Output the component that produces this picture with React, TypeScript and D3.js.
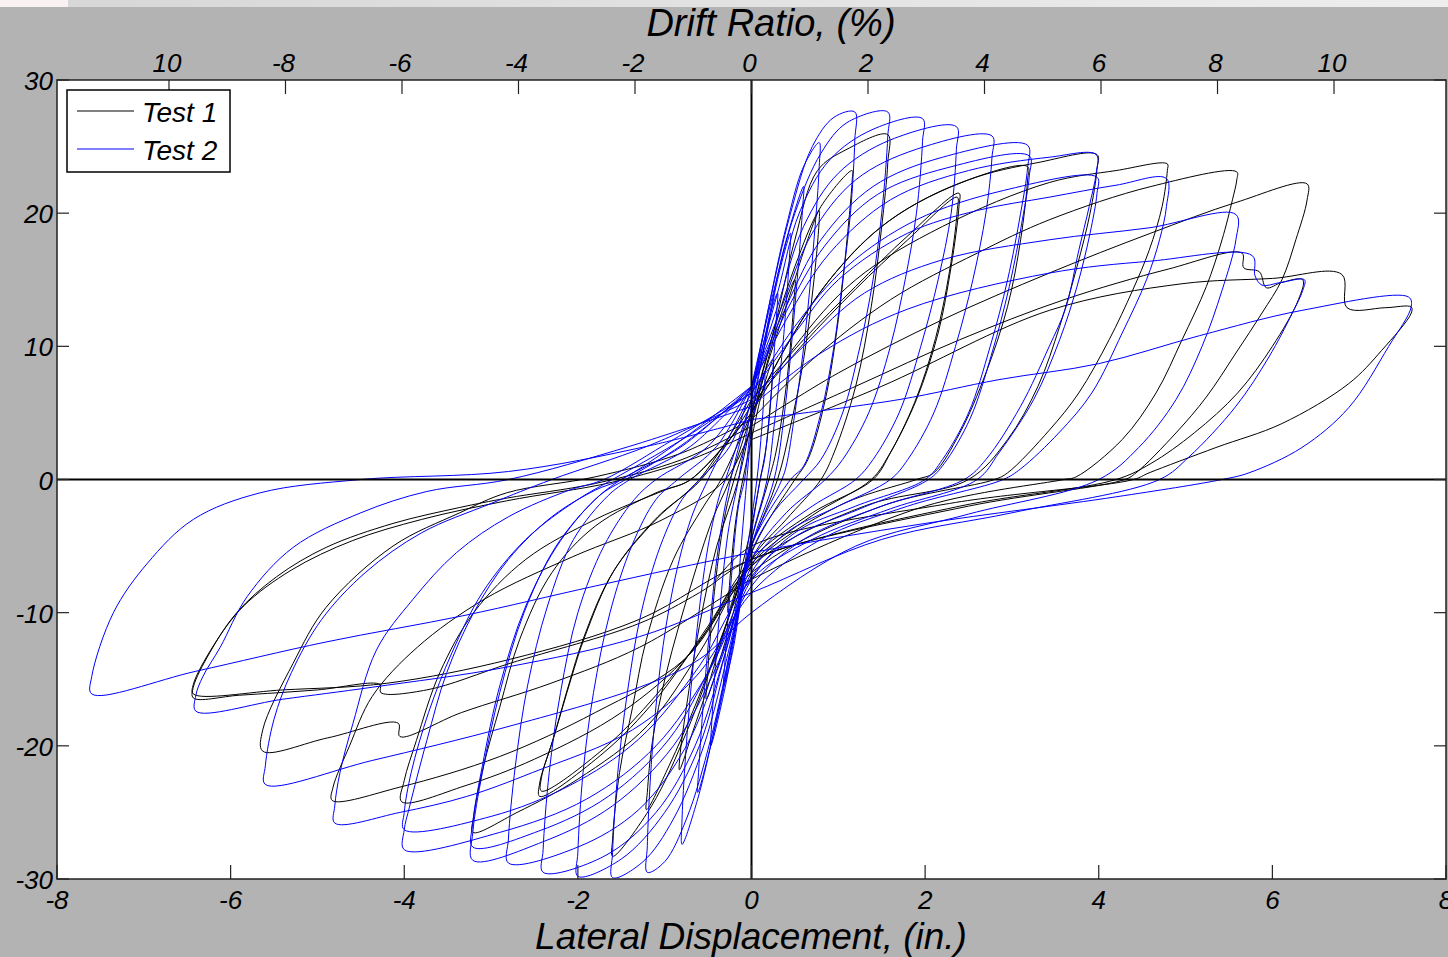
import React from 'react';
import * as d3 from 'd3';

type Pt = [number, number];

// axis values
const dispTicks = [-8, -6, -4, -2, 0, 2, 4, 6, 8];
const forceTicks = [-30, -20, -10, 0, 10, 20, 30];
const driftTicks = [-10, -8, -6, -4, -2, 0, 2, 4, 6, 8, 10];
const driftLabels = ['10', '-8', '-6', '-4', '-2', '0', '2', '4', '6', '8', '10'];
const seriesNames = ['Test 1', 'Test 2'];
const colHeight = 67.1; // in., used for drift ratio = disp / height

// Test 1 (black): one loop per cycle [disp (in.), force]
const test1Cycles: Pt[][] = [
  [[0, 3], [0.12, 6.5], [0.25, 9], [0.24, 7.5], [0.17, 2.5], [0.1, 0], [0, -3.5], [-0.13, -7], [-0.27, -10], [-0.26, -8.5], [-0.18, -3], [-0.1, 0], [0, 3]],
  [[0, 4], [0.15, 8], [0.32, 12], [0.5, 15], [0.49, 13.5], [0.4, 7], [0.28, 2], [0.2, 0], [0, -4.5], [-0.17, -9], [-0.34, -13], [-0.52, -16.5], [-0.51, -15], [-0.42, -8], [-0.3, -2.5], [-0.2, 0], [0, 4]],
  [[0, 4.5], [0.2, 9], [0.45, 14], [0.62, 17.5], [0.78, 20.2], [0.78, 19.5], [0.72, 15], [0.6, 9], [0.45, 4], [0.3, 0], [0, -5], [-0.25, -10], [-0.5, -15.5], [-0.68, -19], [-0.83, -21.8], [-0.82, -20.5], [-0.75, -17.1], [-0.6, -11], [-0.4, -5], [-0.15, 0], [0, 4.5]],
  [[0, 5], [0.25, 11], [0.5, 16], [0.8, 20.5], [1.16, 23.2], [1.16, 22.5], [1.1, 18], [1.0, 12], [0.85, 6], [0.65, 1.5], [0.5, 0], [0.2, -3], [0, -5.5], [-0.3, -11], [-0.65, -17], [-0.95, -21.5], [-1.21, -24.8], [-1.2, -23.5], [-1.14, -19.6], [-0.98, -14.5], [-0.7, -8], [-0.45, -3], [-0.25, 0], [0, 5]],
  [[0, 5], [0.25, 11], [0.5, 18], [0.76, 23.2], [1.1, 24.8], [1.57, 25.9], [1.57, 23.8], [1.5, 19], [1.38, 13], [1.2, 7], [0.95, 2], [0.8, 0], [0.4, -3], [0, -6], [-0.35, -12], [-0.75, -19], [-1.15, -24.5], [-1.6, -28.3], [-1.6, -27], [-1.52, -22], [-1.37, -17.1], [-1.21, -12], [-0.9, -6], [-0.55, -2], [-0.35, 0], [0, 5]],
  [[0, 6], [0.6, 10.5], [1.2, 14.5], [1.8, 18.3], [2.39, 21.5], [2.39, 20.5], [2.3, 16], [2.15, 11], [1.9, 6], [1.6, 2], [1.4, 0], [0.7, -2.5], [0, -6], [-0.5, -11], [-1.1, -16.5], [-1.7, -20.5], [-2.44, -23.8], [-2.44, -22.8], [-2.29, -19.6], [-2.1, -15.3], [-1.94, -12], [-1.6, -7], [-1.1, -3], [-0.6, 0], [0, 6]],
  [[0, 5.6], [0.6, 10.2], [1.2, 14.3], [1.8, 18.0], [2.37, 21.2], [2.37, 20.2], [2.28, 15.6], [2.12, 10.6], [1.88, 5.8], [1.58, 1.8], [1.38, 0], [0.7, -2.7], [0, -6.3], [-0.5, -11.2], [-1.1, -16.2], [-1.7, -20.2], [-2.42, -23.4], [-2.42, -22.4], [-2.27, -19.2], [-2.08, -15], [-1.92, -11.8], [-1.58, -6.8], [-1.08, -2.8], [-0.58, 0], [0, 5.6]],
  [[0, 5], [0.4, 10], [0.9, 15], [1.5, 19], [2.3, 22], [3.18, 23.5], [3.18, 22.5], [3.1, 18], [2.95, 13], [2.7, 8], [2.4, 3.5], [2.1, 0.5], [1.9, 0], [1.0, -2], [0, -6.5], [-0.6, -13], [-1.2, -18.5], [-2.0, -22.5], [-2.7, -25], [-3.21, -26.5], [-3.2, -25.3], [-3.09, -21.6], [-2.9, -17.1], [-2.67, -12], [-2.3, -7], [-1.8, -3.5], [-1.1, -1], [-0.7, 0], [0, 5]],
  [[0, 5], [0.4, 10], [0.9, 15], [1.6, 19.5], [2.5, 22.5], [3.3, 23.8], [3.98, 24.4], [3.98, 23.3], [3.9, 20], [3.75, 16], [3.55, 11.5], [3.3, 7], [2.95, 3], [2.5, 0], [1.3, -2], [0, -6.5], [-0.7, -13], [-1.5, -17.5], [-2.5, -21], [-3.3, -23], [-4.03, -24.2], [-4.0, -22.6], [-3.86, -19.6], [-3.59, -14.5], [-3.2, -10], [-2.6, -6], [-1.8, -3], [-1.0, -0.8], [-0.7, 0], [0, 5]],
  [[0, 5], [0.5, 10], [1.2, 15], [2.2, 19], [3.43, 22.3], [4.2, 23.2], [4.79, 23.7], [4.79, 23.2], [4.73, 20.5], [4.58, 17.2], [4.39, 14.2], [4.12, 10.5], [3.77, 6.5], [3.43, 3.7], [2.95, 0.5], [2.8, 0], [1.5, -2], [0, -7], [-0.77, -13.5], [-1.8, -17.5], [-2.9, -20.8], [-4.05, -23.1], [-4.83, -24.1], [-4.82, -23.1], [-4.63, -20], [-4.37, -16.3], [-3.85, -12.6], [-3.08, -9], [-2.06, -5.8], [-1.02, -3], [-0.3, 0], [0, 4]],
  [[0, 4.5], [0.7, 9], [1.6, 13.5], [2.6, 17], [3.43, 19.5], [4.6, 22], [5.59, 23.1], [5.59, 22.5], [5.54, 21], [5.42, 18], [5.24, 14.5], [4.96, 10.5], [4.66, 6.5], [4.27, 3], [3.74, 0.2], [3.6, 0], [2, -2], [0, -7.5], [-0.25, -8.5], [-1.29, -12.6], [-2.31, -15.3], [-3.34, -17.5], [-4.05, -19.3], [-4.07, -18.3], [-4.88, -19.4], [-5.63, -20.4], [-5.63, -18.8], [-5.28, -13.8], [-4.9, -9.6], [-4.13, -5.0], [-3.36, -2.5], [-2.82, -1.0], [-1.8, 0.2], [-0.8, 2], [0, 4.5]],
  [[0, 4], [1.0, 8], [2.2, 12], [3.43, 15.5], [4.6, 18.5], [5.58, 20.8], [6.4, 22.2], [6.4, 21], [6.27, 18], [6.11, 15], [5.88, 12.5], [5.58, 9.5], [5.24, 6.2], [4.89, 3.5], [4.43, 0.5], [4.3, 0], [2.5, -2], [0, -6], [-0.6, -8.5], [-1.29, -10.8], [-2.78, -13.8], [-3.74, -15.8], [-4.27, -16.0], [-4.28, -15.4], [-5.0, -15.8], [-5.9, -16.2], [-6.43, -16.4], [-6.43, -15.6], [-6.24, -13.0], [-5.93, -10.0], [-5.47, -7.3], [-4.9, -5.1], [-4.13, -3.3], [-3.36, -2.1], [-2.82, -1.4], [-1.8, -0.3], [-0.8, 1.5], [0, 4]],
  [[0, 3.5], [1.2, 7], [2.4, 10.5], [3.6, 13.5], [4.8, 15.8], [5.65, 17.0], [5.67, 15.9], [5.85, 15.6], [5.93, 14.4], [6.11, 14.8], [6.35, 15.0], [6.3, 13.5], [6.0, 10], [5.6, 6.5], [5.1, 3.5], [4.6, 1.2], [4.2, 0], [2.4, -2], [0, -6], [-1.29, -10.5], [-2.78, -13.5], [-4.2, -15.3], [-5.4, -15.8], [-6.43, -16.1], [-6.43, -15.4], [-6.2, -12.5], [-5.85, -9.5], [-5.3, -6.8], [-4.6, -4.6], [-3.8, -3], [-2.82, -1.6], [-1.6, -0.2], [-0.7, 1.5], [0, 3.5]],
  [[0, 3], [1.5, 7], [3.43, 12.7], [4.96, 14.7], [6.0, 15.1], [6.8, 15.4], [6.86, 12.9], [7.3, 12.9], [7.6, 12.95], [7.6, 12.5], [7.26, 9.7], [6.88, 7.2], [6.11, 4.2], [5.35, 2.4], [4.58, 0.5], [4.4, 0], [2.28, -1.8], [0, -5], [-0.4, -7.5]],
];

// Test 2 (blue)
const test2Cycles: Pt[][] = [
  [[0, 4], [0.08, 6.5], [0.15, 8], [0.14, 6], [0.08, 1], [0, -3], [-0.08, -6.5], [-0.15, -9], [-0.14, -7], [-0.08, -2], [0, 4]],
  [[0, 5], [0.12, 9], [0.22, 12.5], [0.3, 14], [0.29, 12.5], [0.22, 6], [0.15, 1.5], [0.1, 0], [0, -4], [-0.12, -9], [-0.22, -13], [-0.32, -15.5], [-0.31, -14], [-0.24, -8], [-0.15, -2], [-0.08, 0], [0, 5]],
  [[0, 5.5], [0.15, 10], [0.3, 15], [0.45, 18.5], [0.44, 17], [0.36, 10], [0.26, 4], [0.18, 0], [0, -4.5], [-0.15, -10], [-0.3, -15.5], [-0.47, -20], [-0.46, -18.5], [-0.38, -11], [-0.27, -4], [-0.15, 0], [0, 5.5]],
  [[0, 6], [0.18, 11.5], [0.38, 17.5], [0.6, 22], [0.59, 20.5], [0.5, 13], [0.38, 5], [0.26, 0], [0, -5], [-0.18, -11], [-0.38, -17.5], [-0.62, -23.5], [-0.61, -22], [-0.52, -14], [-0.38, -5], [-0.24, 0], [0, 6]],
  [[0, 6], [0.2, 13], [0.4, 19], [0.6, 23.5], [0.78, 25.3], [0.78, 23.5], [0.72, 18], [0.62, 11], [0.5, 5], [0.4, 1], [0.35, 0], [0, -5], [-0.2, -11.5], [-0.42, -18.5], [-0.62, -24], [-0.8, -27.4], [-0.8, -25.5], [-0.74, -19], [-0.64, -12], [-0.5, -5], [-0.36, -1], [-0.3, 0], [0, 6]],
  [[0, 6.5], [0.2, 13], [0.45, 20], [0.7, 25], [0.95, 27.2], [1.19, 27.6], [1.19, 25.5], [1.14, 20], [1.05, 15], [0.95, 10], [0.8, 5], [0.6, 1], [0.45, 0], [0, -5], [-0.22, -12], [-0.47, -19.5], [-0.75, -25.5], [-1.0, -28.7], [-1.2, -29.5], [-1.2, -27.5], [-1.15, -21], [-1.05, -14], [-0.9, -8], [-0.7, -3], [-0.5, 0], [0, 6.5]],
  [[0, 7], [0.25, 14], [0.5, 20], [0.8, 24.5], [1.1, 26.8], [1.57, 27.6], [1.57, 25.8], [1.5, 20], [1.4, 15], [1.25, 10], [1.05, 5], [0.8, 1.5], [0.6, 0], [0.25, -2.5], [0, -5.5], [-0.25, -12.5], [-0.55, -20], [-0.9, -25.5], [-1.25, -28.7], [-1.6, -29.9], [-1.6, -28], [-1.54, -22], [-1.43, -16], [-1.27, -10], [-1.05, -5], [-0.8, -1.5], [-0.6, 0], [-0.25, 2.5], [0, 7]],
  [[0, 7], [0.3, 14], [0.55, 20], [0.9, 24], [1.4, 26.3], [1.97, 27.1], [1.97, 25.4], [1.9, 20], [1.77, 15], [1.6, 10], [1.35, 5], [1.05, 1.5], [0.85, 0], [0.4, -2.5], [0, -6], [-0.3, -13], [-0.6, -20], [-1.0, -25], [-1.5, -28.5], [-2.0, -29.8], [-2.0, -28], [-1.94, -22], [-1.82, -16], [-1.63, -10], [-1.38, -5], [-1.1, -1.5], [-0.85, 0], [-0.4, 2.5], [0, 7]],
  [[0, 7], [0.3, 13], [0.6, 19], [1.0, 23], [1.6, 25.5], [2.36, 26.5], [2.36, 24.8], [2.3, 20], [2.15, 15], [1.95, 10], [1.7, 5], [1.4, 1.5], [1.2, 0], [0.7, -2], [0.3, -4], [0, -6.5], [-0.3, -13], [-0.65, -20], [-1.1, -25], [-1.7, -28.3], [-2.4, -29.5], [-2.4, -27.8], [-2.33, -22], [-2.2, -16], [-2.0, -10], [-1.7, -5], [-1.35, -1.5], [-1.1, 0], [-0.5, 2.5], [0, 7]],
  [[0, 7], [0.35, 13], [0.7, 18.5], [1.2, 22.5], [1.9, 24.8], [2.77, 25.8], [2.77, 24.2], [2.7, 20], [2.55, 15], [2.35, 10], [2.1, 5], [1.8, 1.5], [1.6, 0], [1.0, -2], [0.4, -4], [0, -7], [-0.35, -13.5], [-0.75, -20], [-1.3, -24.8], [-2.0, -27.6], [-2.8, -28.8], [-2.8, -27], [-2.72, -21.5], [-2.58, -15.5], [-2.35, -9.5], [-2.05, -4.5], [-1.65, -1.2], [-1.4, 0], [-0.7, 2.5], [0, 7]],
  [[0, 7], [0.4, 13], [0.8, 18], [1.4, 22], [2.2, 24.2], [3.18, 25.1], [3.18, 23.4], [3.1, 20], [2.95, 15], [2.75, 10], [2.5, 5], [2.2, 1.5], [2.0, 0], [1.2, -2], [0.5, -4], [0, -7.5], [-0.4, -14], [-0.9, -20], [-1.6, -24.5], [-2.4, -27.2], [-3.21, -28.6], [-3.21, -26.5], [-3.1, -22], [-2.9, -16], [-2.62, -10], [-2.25, -5], [-1.8, -1.5], [-1.5, 0], [-0.8, 2.5], [0, 7]],
  [[0, 6.8], [0.4, 12.6], [0.85, 17.6], [1.45, 21.4], [2.25, 23.4], [3.2, 24.3], [3.2, 22.8], [3.12, 19.5], [2.97, 14.5], [2.77, 9.5], [2.52, 4.6], [2.22, 1.2], [2.04, 0], [1.25, -2.2], [0.5, -4.3], [0, -7.3], [-0.45, -13.8], [-0.95, -19.5], [-1.65, -23.8], [-2.45, -26.4], [-3.21, -27.6], [-3.21, -25.8], [-3.1, -21.5], [-2.9, -15.5], [-2.6, -9.5], [-2.2, -4.6], [-1.75, -1.2], [-1.45, 0], [-0.8, 2.6], [0, 6.8]],
  [[0, 7], [0.4, 12], [0.9, 17], [1.6, 21], [2.5, 23.2], [3.43, 24.2], [3.97, 24.4], [3.97, 23.0], [3.89, 20.5], [3.77, 17.2], [3.62, 12.9], [3.43, 10], [3.1, 5.5], [2.7, 1.5], [2.45, 0], [1.5, -2], [0.6, -4.5], [0, -8], [-0.5, -14.5], [-1.1, -20], [-1.9, -24], [-2.9, -26.5], [-4.0, -27.8], [-4.0, -26.3], [-3.94, -24.6], [-3.74, -19.6], [-3.51, -14.5], [-3.2, -10], [-2.8, -6], [-2.3, -2.8], [-1.8, -0.8], [-1.5, 0], [-0.8, 3], [0, 7]],
  [[0, 6.5], [0.5, 11.5], [1.1, 16], [1.9, 19.5], [2.9, 21.7], [3.98, 22.7], [3.98, 21.5], [3.9, 18.5], [3.75, 14.5], [3.55, 10.5], [3.25, 6], [2.85, 2], [2.6, 0], [1.6, -2.2], [0.7, -4.5], [0, -7.5], [-0.6, -14], [-1.3, -19.5], [-2.1, -23], [-3.0, -25.3], [-4.0, -26.3], [-4.0, -25], [-3.92, -22], [-3.72, -17.5], [-3.45, -13], [-3.1, -8.5], [-2.6, -4.5], [-2.0, -1.5], [-1.6, 0], [-0.8, 3], [0, 6.5]],
  [[0, 6.5], [0.5, 11], [1.0, 15], [1.8, 18.5], [2.6, 20.2], [3.43, 21.2], [4.2, 22.1], [4.78, 22.6], [4.78, 20.5], [4.7, 18], [4.55, 15], [4.27, 11], [3.92, 6.5], [3.54, 3.5], [3.1, 0.8], [2.9, 0], [1.8, -2], [0.8, -4.5], [0, -8.5], [-0.6, -14.5], [-1.37, -18.8], [-2.52, -22], [-3.28, -23.8], [-4.05, -25], [-4.8, -25.8], [-4.8, -24.5], [-4.74, -22], [-4.59, -18.3], [-4.32, -12.8], [-3.9, -9], [-3.4, -5.5], [-2.8, -2.8], [-2.1, -0.8], [-1.7, 0], [-0.9, 3], [0, 6.5]],
  [[0, 6], [0.6, 10], [1.3, 14], [2.2, 16.5], [3.43, 18.0], [4.58, 18.9], [5.58, 19.9], [5.58, 18.0], [5.42, 14.2], [5.19, 10.0], [4.89, 6.0], [4.46, 2.4], [4.0, 0], [2.5, -2.6], [1.2, -5], [0, -10], [-0.6, -13.5], [-1.29, -15.6], [-2.83, -18.6], [-4.37, -21.1], [-5.6, -22.9], [-5.6, -21.5], [-5.5, -18], [-5.3, -14.5], [-4.95, -10.5], [-4.45, -7], [-3.8, -4], [-3.0, -1.8], [-2.3, 0], [-1.2, 2.5], [0, 6]],
  [[0, 5.5], [0.8, 9.5], [1.8, 12.8], [3.43, 15.5], [4.6, 16.4], [5.77, 16.8], [5.8, 15.3], [5.88, 14.6], [6.1, 14.8], [6.37, 15.0], [6.35, 14.2], [6.23, 12.5], [5.96, 9.2], [5.58, 5.5], [5.04, 1.7], [4.7, 0], [3.0, -2.5], [1.5, -4.5], [0, -8.5], [-1.29, -11.8], [-2.83, -14.1], [-4.37, -15.6], [-5.4, -16.5], [-6.4, -17.4], [-6.4, -16.2], [-6.32, -14.8], [-6.12, -12.6], [-5.81, -8.8], [-5.28, -5.1], [-4.5, -2.5], [-3.74, -0.9], [-2.8, 0], [-1.4, 2.5], [0, 5.5]],
  [[0, 4.5], [1.7, 6.0], [2.85, 7.5], [4.0, 8.7], [5.16, 10.8], [6.34, 12.7], [7.57, 13.7], [7.6, 13.0], [7.34, 10.0], [6.88, 5.4], [6.34, 2.4], [5.73, 0.5], [5.42, 0], [4.2, -1.3], [2.0, -3.3], [0, -5.5], [-1.8, -8.0], [-3.3, -10.2], [-4.9, -12.2], [-6.4, -14.4], [-7.6, -16.1], [-7.6, -14.8], [-7.35, -10.0], [-6.96, -6.3], [-6.43, -3.0], [-5.66, -1.0], [-4.5, 0], [-2.8, 0.6], [-1.2, 2.5], [0, 4.5]],
];

const W = 1448;
const H = 957;
const plot = { left: 57, right: 1446, top: 80, bottom: 879 };
const font = '"Liberation Sans", Arial, sans-serif';

const x = d3.scaleLinear().domain([-8, 8]).range([plot.left, plot.right]);
const y = d3.scaleLinear().domain([-30, 30]).range([plot.bottom, plot.top]);
const xDrift = d3
  .scaleLinear()
  .domain([(-8 / colHeight) * 100, (8 / colHeight) * 100])
  .range([plot.left, plot.right]);

const line = d3
  .line<Pt>()
  .x((d) => x(d[0]))
  .y((d) => y(d[1]))
  .curve(d3.curveCatmullRom.alpha(0.5));

const App = () => {
  const series = [
    { name: seriesNames[0], color: '#000000', cycles: test1Cycles },
    { name: seriesNames[1], color: '#0000ff', cycles: test2Cycles },
  ];

  return (
    <svg
      width={W}
      height={H}
      style={{ position: 'absolute', left: 0, top: 0, display: 'block' }}
      fontFamily={font}
      fontStyle="italic"
    >
      <defs>
        <linearGradient id="strip" x1="0" x2="1" y1="0" y2="0">
          <stop offset="0" stopColor="#d6d6d6" />
          <stop offset="1" stopColor="#eeeeee" />
        </linearGradient>
        <clipPath id="plotClip">
          <rect x={plot.left} y={plot.top} width={plot.right - plot.left} height={plot.bottom - plot.top} />
        </clipPath>
      </defs>

      <rect x={0} y={0} width={W} height={H} fill="#b3b3b3" />
      <rect x={0} y={0} width={W} height={7} fill="url(#strip)" />
      <rect x={0} y={0} width={68} height={7} fill="#faf2f2" />

      <rect x={plot.left} y={plot.top} width={plot.right - plot.left} height={plot.bottom - plot.top} fill="#ffffff" />

      <g clipPath="url(#plotClip)" fill="none">
        {series.map((s) => (
          <g key={s.name} stroke={s.color} strokeWidth={1}>
            {s.cycles.map((c, i) => (
              <path key={i} d={line(c) ?? ''} />
            ))}
          </g>
        ))}
      </g>

      {/* zero lines */}
      <line x1={x(0)} x2={x(0)} y1={plot.top} y2={plot.bottom} stroke="#000" strokeWidth={2} />
      <line x1={plot.left} x2={plot.right} y1={y(0)} y2={y(0)} stroke="#000" strokeWidth={2} />

      {/* frame */}
      <rect
        x={plot.left}
        y={plot.top}
        width={plot.right - plot.left}
        height={plot.bottom - plot.top}
        fill="none"
        stroke="#222"
        strokeWidth={1.5}
      />

      {/* bottom axis */}
      <g fill="#000" fontSize={26} textAnchor="middle">
        {dispTicks.map((t) => (
          <g key={t}>
            <line x1={x(t)} x2={x(t)} y1={plot.bottom} y2={plot.bottom - 14} stroke="#222" strokeWidth={1.2} />
            <text x={x(t)} y={909}>{t}</text>
          </g>
        ))}
      </g>

      {/* left / right ticks */}
      <g fill="#000" fontSize={26} textAnchor="end">
        {forceTicks.map((t) => (
          <g key={t}>
            <line x1={plot.left} x2={plot.left + 12} y1={y(t)} y2={y(t)} stroke="#222" strokeWidth={1.2} />
            <line x1={plot.right} x2={plot.right - 12} y1={y(t)} y2={y(t)} stroke="#222" strokeWidth={1.2} />
            <text x={53} y={y(t) + 10}>{t}</text>
          </g>
        ))}
      </g>

      {/* top drift axis */}
      <g fill="#000" fontSize={26} textAnchor="middle">
        {driftTicks.map((t, i) => (
          <g key={t}>
            <line x1={xDrift(t)} x2={xDrift(t)} y1={plot.top} y2={plot.top + 14} stroke="#222" strokeWidth={1.2} />
            <text x={xDrift(t) - 2} y={72}>{driftLabels[i]}</text>
          </g>
        ))}
      </g>

      <text x={771} y={36} fontSize={38} textAnchor="middle" fill="#000">
        Drift Ratio, (%)
      </text>
      <text x={751} y={949} fontSize={37} textAnchor="middle" fill="#000">
        Lateral Displacement, (in.)
      </text>

      {/* legend */}
      <g>
        <rect x={67} y={90} width={163} height={82} fill="#fff" stroke="#000" strokeWidth={1.5} />
        {series.map((s, i) => (
          <g key={s.name}>
            <line x1={77} x2={134} y1={111 + i * 38} y2={111 + i * 38} stroke={s.color} strokeWidth={1} />
            <text x={142} y={122 + i * 38} fontSize={28} fill="#000">
              {s.name}
            </text>
          </g>
        ))}
      </g>
    </svg>
  );
};

export default App;
